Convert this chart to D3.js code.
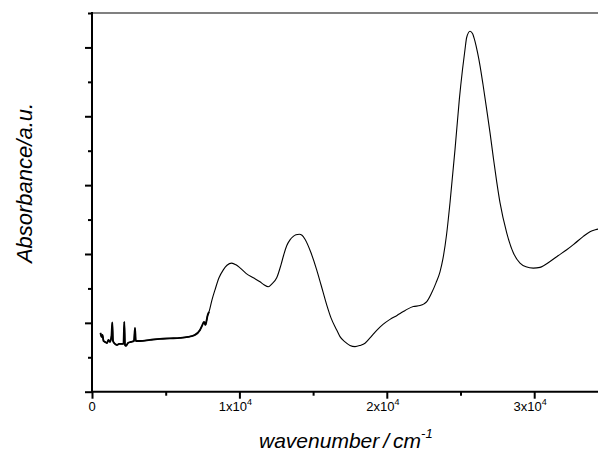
<!DOCTYPE html>
<html>
<head>
<meta charset="utf-8">
<script src="https://cdn.jsdelivr.net/npm/d3@7"></script>
<style>
  html, body { margin: 0; padding: 0; background: #fff; }
  svg { display: block; font-family: "Liberation Sans", Arial, sans-serif; }
</style>
</head>
<body>
<svg id="chart" width="598" height="460"></svg>
<script>
// wavenumber (cm^-1)
const wavenumber = [577,645,712,780,882,1018,1119,1221,1323,1377,1425,1560,1696,1832,1967,2137,2191,2239,2307,2442,2646,2849,2917,2971,3256,3935,4613,5292,5970,6513,6988,7327,7463,7598,7700,7768,7836,7938,8141,8345,8616,8908,9159,9478,9769,10041,10448,10943,11398,11669,11961,12212,12531,12822,13005,13209,13433,13657,13838,14064,14247,14451,14858,15244,15536,15923,16214,16601,16825,17164,17504,17843,18182,18521,18860,19315,19742,20217,20692,21120,21438,21798,22252,22524,22727,23046,23338,23609,23813,24051,24288,24627,24919,25136,25305,25418,25645,25814,25984,26154,26323,26527,26778,27002,27227,27455,27680,28135,28583,29037,29444,29939,30394,31072,31615,32205,32768,33331,33785,34328,34803];
// absorbance (a.u.)
const absorbance = [0.854,0.796,0.825,0.737,0.723,0.708,0.752,0.723,0.810,1.007,0.737,0.694,0.679,0.694,0.694,0.694,1.014,0.679,0.665,0.708,0.723,0.737,0.927,0.737,0.737,0.752,0.767,0.774,0.781,0.796,0.825,0.897,0.956,1.014,0.970,1.028,1.101,1.159,1.334,1.479,1.654,1.770,1.836,1.868,1.843,1.799,1.719,1.654,1.596,1.553,1.524,1.567,1.654,1.843,1.985,2.120,2.205,2.255,2.278,2.287,2.272,2.214,2.017,1.770,1.553,1.261,1.072,0.897,0.800,0.723,0.672,0.655,0.672,0.704,0.781,0.890,0.977,1.050,1.108,1.164,1.203,1.236,1.251,1.276,1.312,1.436,1.581,1.741,1.935,2.276,2.745,3.515,4.242,4.679,4.970,5.144,5.236,5.202,5.087,4.927,4.737,4.461,4.097,3.763,3.399,3.050,2.745,2.308,2.017,1.868,1.814,1.795,1.806,1.891,1.974,2.061,2.156,2.255,2.323,2.362,2.396];
const xMajorTicks = [0, 10000, 20000, 30000];
const xTickLabels = [["0", ""], ["1x10", "4"], ["2x10", "4"], ["3x10", "4"]];
const xMinorTicks = [5000, 15000, 25000, 35000];
const yMajorTicks = [0, 1, 2, 3, 4, 5];
const yMinorTicks = [0.5, 1.5, 2.5, 3.5, 4.5, 5.5];
const xTitleParts = ["wavenumber", "/", "cm", "-1"];
const yTitle = "Absorbance/a.u.";
const noisyLimit = 8000;

const data = wavenumber.map((w, i) => ({ w: w, a: absorbance[i] }));

const svg = d3.select("#chart");
const mLeft = 92, mBottom = 391.7, mTop = 13;
const x = d3.scaleLinear().domain([0, 35000]).range([mLeft, mLeft + 3.5 * 147.4]);
const y = d3.scaleLinear().domain([0, 5.5]).range([mBottom, mTop]);

svg.append("defs").append("clipPath").attr("id", "clip")
  .append("rect").attr("x", mLeft).attr("y", 0).attr("width", 598 - mLeft).attr("height", mBottom);

// top frame (gray)
svg.append("line").attr("x1", mLeft).attr("x2", 598).attr("y1", mTop).attr("y2", mTop)
  .attr("stroke", "#808080").attr("stroke-width", 2);

const line = d3.line().x(d => x(d.w)).y(d => y(d.a)).curve(d3.curveMonotoneX);
const plot = svg.append("g").attr("clip-path", "url(#clip)");
plot.append("path").datum(data).attr("d", line)
  .attr("fill", "none").attr("stroke", "#000").attr("stroke-width", 1.1);
plot.append("path").datum(data.filter(d => d.w <= noisyLimit)).attr("d", line)
  .attr("fill", "none").attr("stroke", "#000").attr("stroke-width", 1.9).attr("stroke-linejoin", "round");

function styleAxis(g) {
  g.select(".domain").remove();
  g.selectAll(".tick line").attr("stroke", "#000").attr("stroke-width", 2);
  g.selectAll(".tick text").remove();
}
// Y axis
svg.append("g").attr("transform", `translate(${mLeft},0)`)
  .call(d3.axisLeft(y).tickValues(yMajorTicks).tickSize(7).tickSizeOuter(0)).call(styleAxis);
svg.append("g").attr("transform", `translate(${mLeft},0)`)
  .call(d3.axisLeft(y).tickValues(yMinorTicks).tickSize(4).tickSizeOuter(0)).call(styleAxis);

// X axis
svg.append("g").attr("transform", `translate(0,${mBottom})`)
  .call(d3.axisBottom(x).tickValues(xMajorTicks).tickSize(7).tickSizeOuter(0)).call(styleAxis);
svg.append("g").attr("transform", `translate(0,${mBottom})`)
  .call(d3.axisBottom(x).tickValues(xMinorTicks).tickSize(4).tickSizeOuter(0)).call(styleAxis);

// axis lines
svg.append("line").attr("x1", mLeft).attr("x2", mLeft).attr("y1", mTop - 1).attr("y2", mBottom + 1)
  .attr("stroke", "#000").attr("stroke-width", 2);
svg.append("line").attr("x1", mLeft - 1).attr("x2", 598).attr("y1", mBottom).attr("y2", mBottom)
  .attr("stroke", "#000").attr("stroke-width", 2);

// x tick labels
xMajorTicks.forEach((t, i) => {
  const txt = svg.append("text").attr("x", x(t) + (i === 0 ? 0 : -4)).attr("y", 411)
    .attr("text-anchor", "middle").attr("font-size", 13).attr("fill", "#000");
  txt.append("tspan").text(xTickLabels[i][0]);
  if (xTickLabels[i][1]) txt.append("tspan").attr("dy", -6).attr("font-size", 9).text(xTickLabels[i][1]);
});

// x title
const xt = svg.append("text").attr("x", 259).attr("y", 448).attr("font-size", 21)
  .attr("font-style", "italic").attr("fill", "#000");
xt.append("tspan").text(xTitleParts[0]);
xt.append("tspan").attr("dx", 4).text(xTitleParts[1]);
xt.append("tspan").attr("dx", 4).text(xTitleParts[2]);
xt.append("tspan").attr("dy", -10).attr("font-size", 13).text(xTitleParts[3]);

// y title
svg.append("text").attr("transform", "translate(32,183) rotate(-90)")
  .attr("text-anchor", "middle").attr("font-size", 22).attr("font-style", "italic")
  .attr("fill", "#000").text(yTitle);
</script>
</body>
</html>
